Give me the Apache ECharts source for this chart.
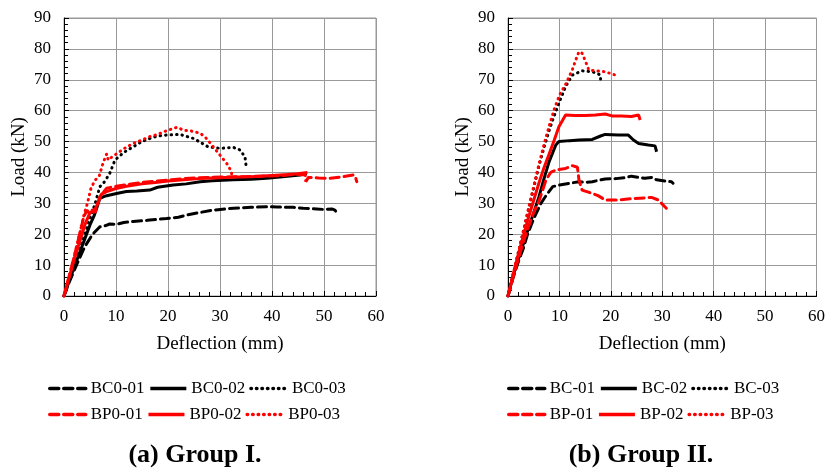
<!DOCTYPE html>
<html lang="en">
<head>
    <meta charset="UTF-8">
    <title>Load-deflection curves</title>
    <script src="https://cdn.jsdelivr.net/npm/echarts@6.0.0/dist/echarts.min.js"></script>
    <style>
        html, body { margin: 0; padding: 0; background: #fff; }
        #chart { width: 828px; height: 476px; }
    </style>
</head>
<body>
    <div id="chart"></div>
    <script>
        // Group I: [deflection mm, load kN]
        const bc0_01 = [[0,0],[1,4.5],[2.4,10],[4,16],[5.5,20],[6.9,22.4],[8,22.8],[8.8,23.3],[10,23.2],[11.5,23.8],[13.3,24.1],[16,24.5],[19.7,25.1],[22,25.5],[23.6,26.2],[26,27],[28.7,27.8],[30.5,28.1],[32.6,28.4],[36,28.7],[39,28.9],[41,28.8],[44.1,28.7],[46,28.4],[48.6,28.2],[50,28],[51.5,28.2],[52.1,27.8],[52.4,27.1]];
        const bc0_02 = [[0,0],[1,5],[2,9.5],[3,14],[4,18.5],[5,23],[5.8,26],[6.3,28.5],[6.9,31.6],[8,32.4],[10.1,33.2],[12,33.8],[14,34],[16.5,34.3],[18,35.2],[21,35.9],[23.5,36.3],[26.2,37],[28.5,37.3],[32.6,37.6],[36,37.8],[39,38.1],[42,38.6],[45.4,39.2],[46.7,39.7]];
        const bc0_03 = [[0,0],[1,5],[2,10],[3,15],[4,20],[5,25],[6,30],[6.9,35.4],[7.8,37],[8.8,39.7],[9.8,44],[11.5,46.5],[13.3,48.3],[15,50],[16.5,51],[18,51.8],[19.7,52.1],[22.3,52.3],[24.9,51],[26.5,49.5],[27.7,48.3],[30,47.8],[32.6,48.1],[33.8,47.3],[34.8,45.1],[35,42.4]];
        const bp0_01 = [[0,0],[1,6.5],[2,13],[3,20],[3.8,25.5],[4.4,27.8],[5,26.5],[5.5,28],[6,27],[6.4,29.5],[6.9,32.1],[8.2,34.9],[10,35.5],[12,36],[15,36.8],[18,37.2],[20,37.5],[23,38],[26,38.3],[30,38.5],[34,38.6],[38,38.8],[42,39],[44.5,39.5],[46.4,39.2],[46.5,37],[47,38.4],[49,38.2],[51.2,38.1],[53.5,38.6],[55.6,39.2],[56,38.8],[56.3,37]];
        const bp0_02 = [[0,0],[1,6],[2,12],[3,17.5],[4,23],[5,27],[5.8,27.5],[6.5,30],[7.2,33],[8.5,34],[10,34.8],[12,35.5],[15,36.3],[18,36.8],[20,37.2],[23,37.6],[26,38],[30,38.3],[33,38.5],[36,38.6],[40,39],[43,39.3],[45,39.6],[46.8,40]];
        const bp0_03 = [[0,0],[1,6.5],[2,13],[3,20],[3.8,26],[4.5,30],[5.2,35],[6,37.5],[6.8,39],[7.5,43],[8.2,46],[8.5,44],[9.2,45],[10.5,46.5],[12,48.2],[13.3,49.4],[15,50.5],[16.5,51.6],[18,52.3],[19.7,53.5],[21.7,54.6],[23,53.7],[24.5,53.4],[26.2,52.7],[27.4,51],[28.7,48.3],[30,45.6],[31.3,42.9],[32.2,40.3],[32.3,38.6]];

        // Group II
        const bc_01 = [[0,0],[1,6],[2.2,12],[3,15.5],[3.8,20],[5,25],[6.4,30],[7.4,32.5],[8.7,35.4],[9.9,35.9],[12,36.5],[13.8,37],[15,36.8],[16.4,37],[18.9,37.9],[21,38],[22.8,38.3],[24,38.8],[26.6,38.1],[28,38.4],[28.9,37.6],[29.2,37],[31,37.1],[31.8,37],[32.1,36.5]];
        const bc_02 = [[0,0],[1,6.5],[2,12],[3,17],[4,22],[5,27],[6,32],[7,38],[8,43.5],[9.3,48.9],[9.9,50],[12,50.3],[13.8,50.5],[16.4,50.7],[18,51.8],[18.9,52.3],[21.5,52.1],[23.4,52.1],[24.4,50.5],[25.4,49.4],[27.3,48.9],[28.6,48.6],[28.9,46.7]];
        const bc_03 = [[0,0],[1,7],[2,14],[3,21],[4,28],[5,35],[6,42],[7,48],[8,53.5],[8.7,57],[9.9,62.4],[11.2,67.8],[12.5,71.5],[14.4,72.9],[16.4,72.6],[17.4,72],[18,71.5],[18,70]];
        const bp_01 = [[0,0],[1,6],[2,12],[3,17.5],[4,22.5],[5,27],[6.1,31.1],[7.4,37.6],[8.3,40],[9.3,40.8],[11.2,41.3],[12.5,42.2],[13.5,41.7],[13.8,37.6],[14.4,34.3],[16.4,33.2],[17.5,32.5],[18.9,31.1],[21.5,31.1],[24.7,31.6],[27.9,31.9],[29.2,31.1],[30.5,28.9],[30.8,28.4]];
        const bp_02 = [[0,0],[1,7],[2,13.5],[3,19.5],[4,25.5],[5,31],[6,36.5],[7,41.5],[8,46],[9,50.5],[9.9,54.8],[11.2,58.6],[13,58.4],[15.1,58.4],[17,58.6],[18.9,58.9],[20.2,58.3],[22,58.3],[24,58.1],[25.4,58.6],[25.7,57]];
        const bp_03 = [[0,0],[1,7],[2,14],[3,21],[4,28.5],[5,35.5],[6,42.5],[7,49],[8,55],[9,60.5],[10,65],[11.2,68.5],[12.5,73.2],[13.2,76.5],[13.8,79.1],[14.4,78.6],[15.1,75.9],[15.7,73.2],[17,72.9],[18.9,72.6],[20,72],[20.9,71.5],[20.9,70.8]];

        const namesA = ['BC0-01', 'BC0-02', 'BC0-03', 'BP0-01', 'BP0-02', 'BP0-03'];
        const namesB = ['BC-01', 'BC-02', 'BC-03', 'BP-01', 'BP-02', 'BP-03'];
        const dataA = [bc0_01, bc0_02, bc0_03, bp0_01, bp0_02, bp0_03];
        const dataB = [bc_01, bc_02, bc_03, bp_01, bp_02, bp_03];
        const titles = ['(a) Group I.', '(b) Group II.'];

        const FONT = '"Liberation Serif", "Times New Roman", serif';
        const colors = ['#000', '#000', '#000', '#ff0000', '#ff0000', '#ff0000'];
        const types = [[9, 5], 'solid', [0.5, 5], [9, 5], 'solid', [0.5, 5]];

        function makeSeries(names, datas, idx) {
            return names.map((n, i) => ({
                name: n,
                type: 'line',
                xAxisIndex: idx,
                yAxisIndex: idx,
                data: datas[i],
                symbol: 'none',
                showSymbol: false,
                silent: true,
                lineStyle: {
                    color: colors[i],
                    width: 3,
                    type: types[i],
                    cap: types[i] === 'solid' ? 'butt' : 'round'
                },
                itemStyle: { color: colors[i] }
            }));
        }

        function xAxis(idx) {
            return {
                gridIndex: idx,
                type: 'value',
                min: 0, max: 60, interval: 10,
                name: 'Deflection (mm)',
                nameLocation: 'middle',
                nameGap: 39,
                nameTextStyle: { fontFamily: FONT, fontSize: 19, color: '#000' },
                axisLine: { lineStyle: { color: '#000', width: 1 } },
                axisTick: { inside: true, length: 5, lineStyle: { color: '#000' } },
                minorTick: { show: true, splitNumber: 5, length: 4, lineStyle: { color: '#000' } },
                axisLabel: { fontFamily: FONT, fontSize: 17, color: '#000', margin: 12 },
                splitLine: { show: true, lineStyle: { color: '#999', width: 1 } }
            };
        }

        function yAxis(idx) {
            return {
                gridIndex: idx,
                type: 'value',
                min: 0, max: 90, interval: 10,
                name: 'Load (kN)',
                nameLocation: 'middle',
                nameGap: 35,
                nameTextStyle: { fontFamily: FONT, fontSize: 19, color: '#000' },
                axisLine: { show: true, lineStyle: { color: '#000', width: 1 } },
                axisTick: { show: true, inside: true, length: 5, lineStyle: { color: '#000' } },
                minorTick: { show: true, splitNumber: 5, length: 4, lineStyle: { color: '#000' } },
                axisLabel: { fontFamily: FONT, fontSize: 17, color: '#000', margin: 13 },
                splitLine: { show: true, lineStyle: { color: '#999', width: 1 } }
            };
        }

        function legend(names, left, top) {
            return {
                data: names,
                left: left,
                top: top,
                padding: 0,
                orient: 'horizontal',
                itemWidth: 36,
                itemHeight: 14,
                itemGap: 4,
                selectedMode: false,
                itemStyle: { color: 'transparent', borderWidth: 0, opacity: 0 },
                lineStyle: { width: 3.5 },
                textStyle: { fontFamily: FONT, fontSize: 17, color: '#000' }
            };
        }

        const chart = echarts.init(document.getElementById('chart'), null, { renderer: 'canvas' });
        const option = {
            animation: false,
            backgroundColor: '#fff',
            title: [
                { text: titles[0], left: 190, top: 437, textAlign: 'center',
                  textStyle: { fontFamily: FONT, fontSize: 26, fontWeight: 'bold', color: '#000' } },
                { text: titles[1], left: 636, top: 437, textAlign: 'center',
                  textStyle: { fontFamily: FONT, fontSize: 26, fontWeight: 'bold', color: '#000' } }
            ],
            legend: [
                legend(namesA.slice(0, 3), 48, 380),
                legend(namesA.slice(3), 48, 406),
                legend(namesB.slice(0, 3), 507, 380),
                legend(namesB.slice(3), 507, 406)
            ],
            grid: [
                { left: 64, top: 18, width: 312, height: 278, show: true, borderColor: '#999', borderWidth: 1 },
                { left: 508, top: 18, width: 312, height: 278, show: true, borderColor: '#999', borderWidth: 1 }
            ],
            xAxis: [xAxis(0), xAxis(1)],
            yAxis: [yAxis(0), yAxis(1)],
            series: makeSeries(namesA, dataA, 0).concat(makeSeries(namesB, dataB, 1))
        };
        chart.setOption(option);
    </script>
</body>
</html>
